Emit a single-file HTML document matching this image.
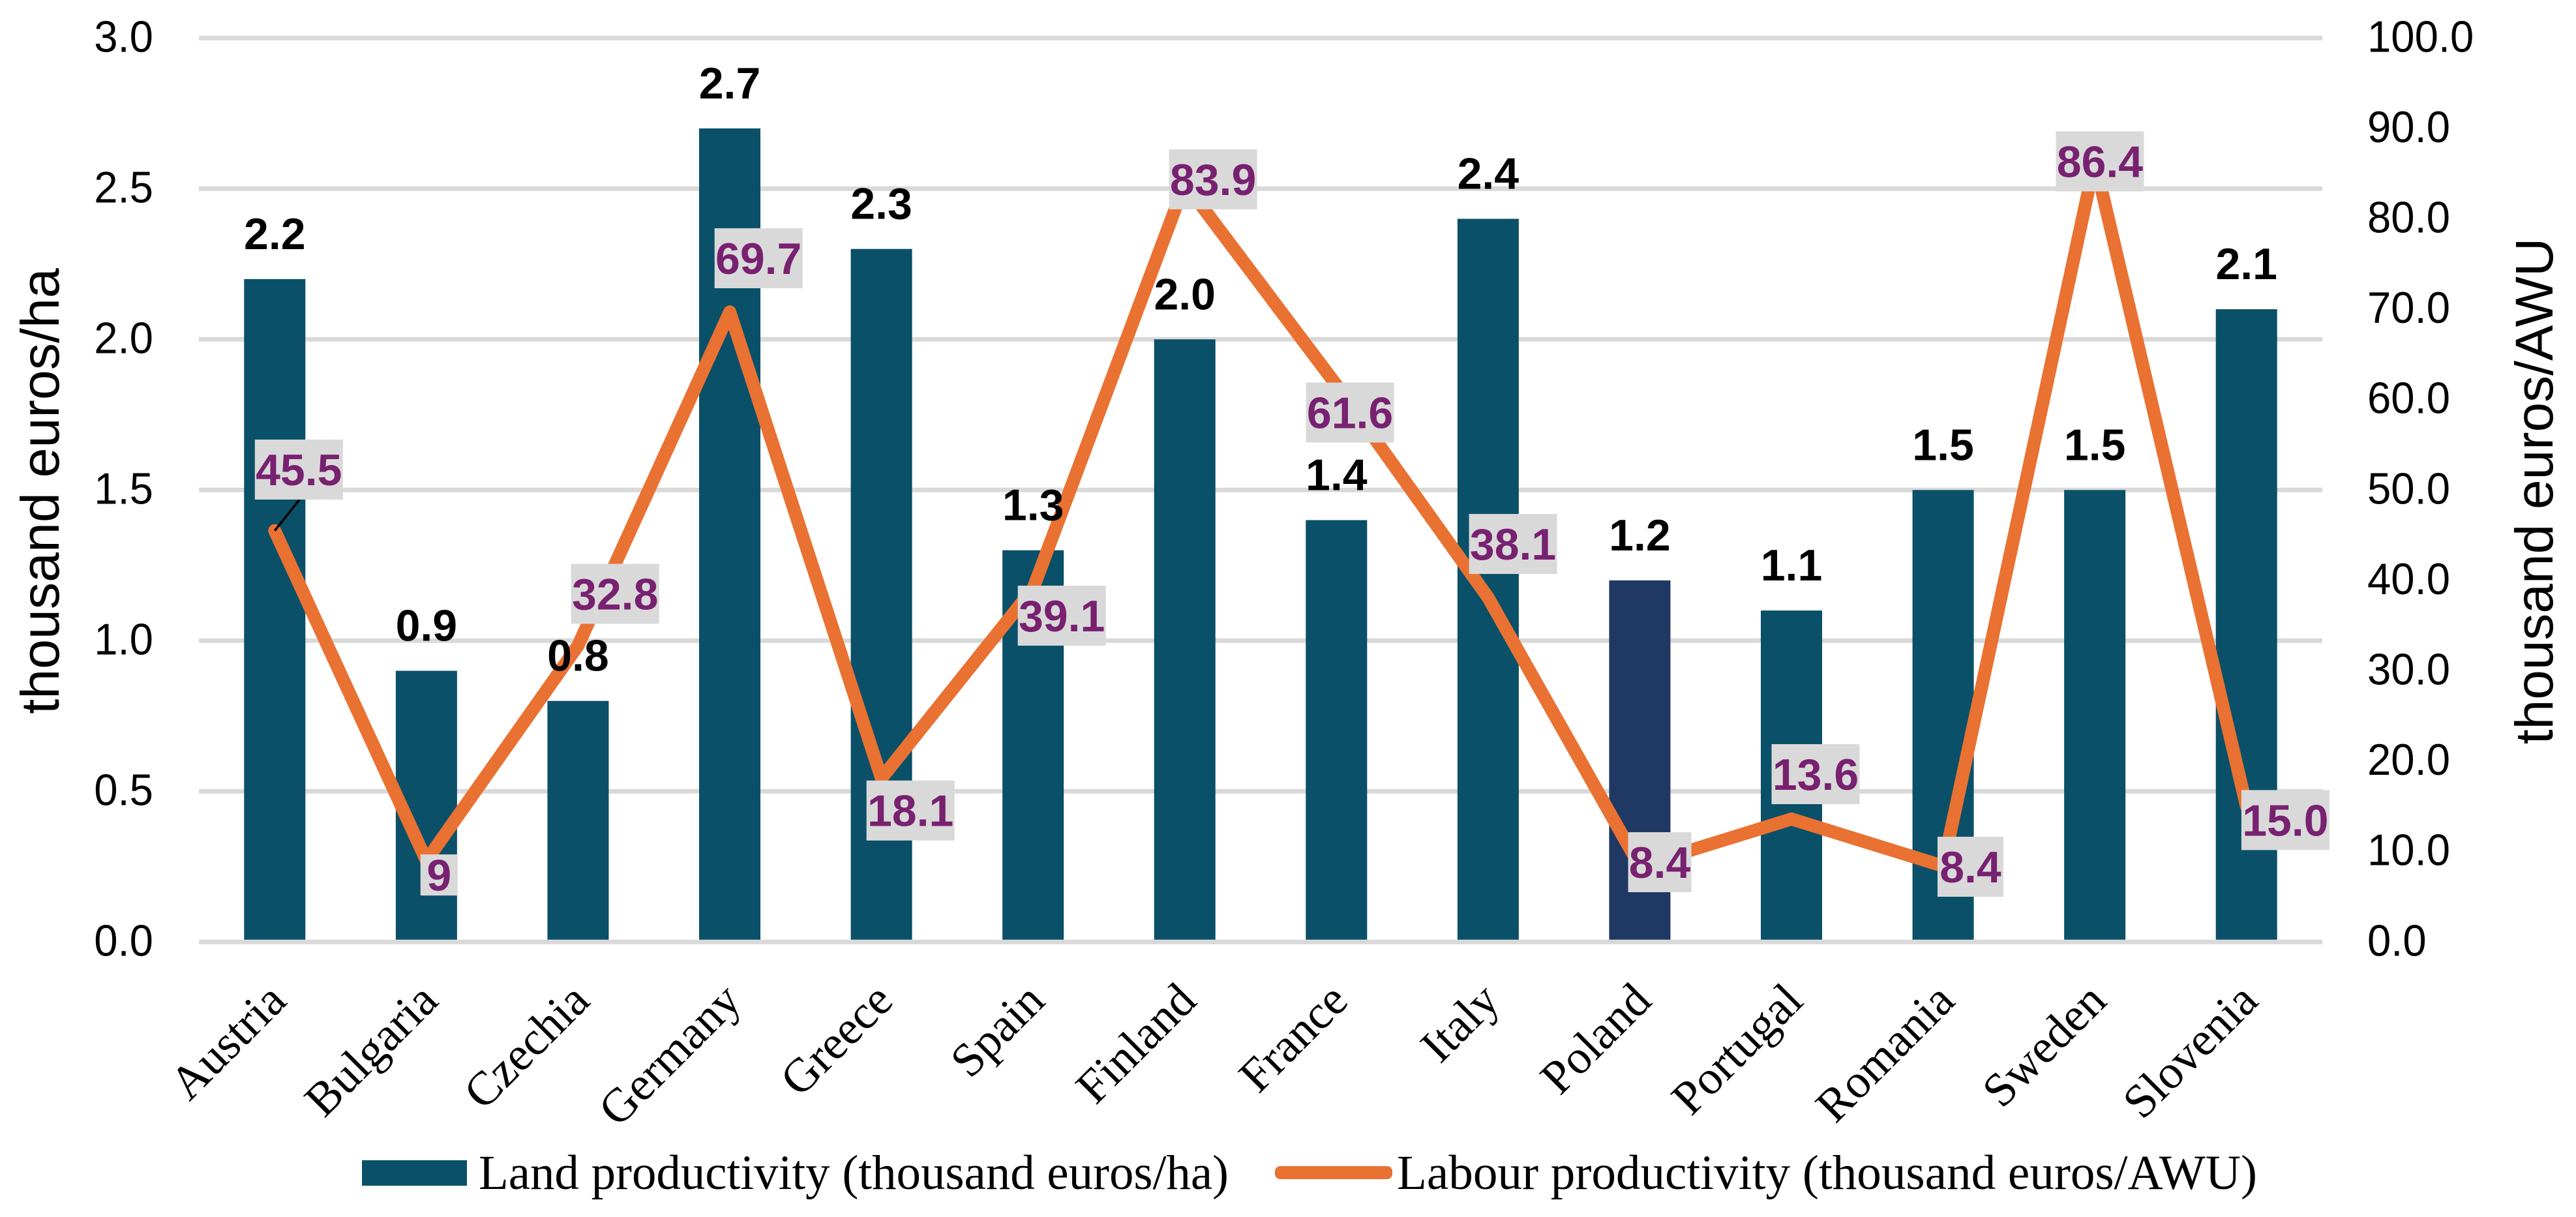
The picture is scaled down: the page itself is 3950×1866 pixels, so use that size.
<!DOCTYPE html>
<html lang="en">
<head>
<meta charset="utf-8">
<title>Land and labour productivity by country</title>
<style>
  html, body { margin: 0; padding: 0; background: #ffffff; }
  svg { display: block; }
  .sans { font-family: "Liberation Sans", sans-serif; }
  .serif { font-family: "Liberation Serif", serif; }
</style>
</head>
<body>
<svg id="chart" xmlns="http://www.w3.org/2000/svg" width="3950" height="1866" viewBox="0 0 3950 1866">
  <rect x="0" y="0" width="3950" height="1866" fill="#ffffff"/>
  <g id="grid"></g>
  <g id="bars"></g>
  <g id="baseline"></g>
  <g id="leftTicks"></g>
  <g id="rightTicks"></g>
  <g id="xTicks"></g>
  <g id="lineLayer"></g>
  <g id="barLabels"></g>
  <g id="lineLabelLayer"></g>

  <text class="sans" font-size="82.5" fill="#000" text-anchor="middle" transform="translate(90 753) rotate(-90)">thousand euros/ha</text>
  <text class="sans" font-size="82" fill="#000" text-anchor="middle" transform="translate(3914 753) rotate(-90)">thousand euros/AWU</text>

  <g>
    <rect x="555" y="1779" width="161" height="39" fill="#0a5068"/>
    <text class="serif" x="734" y="1823" font-size="75" fill="#000" textLength="1150" lengthAdjust="spacingAndGlyphs">Land productivity (thousand euros/ha)</text>
    <rect x="1955" y="1788" width="180" height="20" rx="8" ry="8" fill="#e97132"/>
    <text class="serif" x="2142" y="1823" font-size="75" fill="#000" textLength="1319" lengthAdjust="spacingAndGlyphs">Labour productivity (thousand euros/AWU)</text>
  </g>
</svg>
<script>
const countries = ["Austria", "Bulgaria", "Czechia", "Germany", "Greece", "Spain", "Finland", "France", "Italy", "Poland", "Portugal", "Romania", "Sweden", "Slovenia"];
const landProductivity = [2.2, 0.9, 0.8, 2.7, 2.3, 1.3, 2.0, 1.4, 2.4, 1.2, 1.1, 1.5, 1.5, 2.1];
const labourProductivity = [45.5, 9, 32.8, 69.7, 18.1, 39.1, 83.9, 61.6, 38.1, 8.4, 13.6, 8.4, 86.4, 15.0];
const labourLabels = ["45.5", "9", "32.8", "69.7", "18.1", "39.1", "83.9", "61.6", "38.1", "8.4", "13.6", "8.4", "86.4", "15.0"];
const leftTickLabels = ["0.0", "0.5", "1.0", "1.5", "2.0", "2.5", "3.0"];
const rightTickLabels = ["0.0", "10.0", "20.0", "30.0", "40.0", "50.0", "60.0", "70.0", "80.0", "90.0", "100.0"];

const NS = "http://www.w3.org/2000/svg";
const PLOT_LEFT = 305, PLOT_RIGHT = 3561, Y_ZERO = 1444.3, Y_TOP = 58.3;
const LEFT_MAX = 3, RIGHT_MAX = 100;
const BAR_WIDTH = 94;
const TICK_SIZE = 68;
const BAND = (PLOT_RIGHT - PLOT_LEFT) / countries.length;

function xAt(i) { return PLOT_LEFT + BAND * (i + 0.5); }
function yLeft(v) { return Y_ZERO - (Y_ZERO - Y_TOP) * v / LEFT_MAX; }
function yRight(v) { return Y_ZERO - (Y_ZERO - Y_TOP) * v / RIGHT_MAX; }
function tickLength(t) { return ((t.length - 1) * 0.556 + 0.278) * TICK_SIZE * 0.96; }

function make(tag, attrs, parent, text) {
  const el = document.createElementNS(NS, tag);
  for (const k in attrs) el.setAttribute(k, attrs[k]);
  if (text !== undefined) el.textContent = text;
  parent.appendChild(el);
  return el;
}

/* callout placement relative to each data point (label layout, not data) */
const calloutDx = [37, 19.4, 56.8, 44.2, 44.6, 44, 43.4, 20.8, 38.2, 30.6, 37, 41.9, 7.8, 59.7];
const calloutDy = [-93.7, 22, -79.2, -82.3, 49.3, 41.6, -6.5, 42, -82.2, -5.9, -68.8, 1.1, 0.7, 21];
const calloutW = [135, 57, 135, 135, 135, 135, 135, 135, 135, 97, 135, 101, 135, 135];
const calloutH = [92, 63, 92, 92, 92, 92, 92, 92, 92, 92, 92, 92, 92, 92];

const grid = document.getElementById("grid");
leftTickLabels.forEach(function (t) {
  const y = yLeft(parseFloat(t));
  if (parseFloat(t) === 0) return;
  const g = make("line", { x1: PLOT_LEFT, x2: PLOT_RIGHT, y1: y, y2: y, stroke: "#d9d9d9", "stroke-width": 7 }, grid);
  
  
});

const base = make("line", { x1: PLOT_LEFT, x2: PLOT_RIGHT, y1: Y_ZERO, y2: Y_ZERO, stroke: "#d9d9d9", "stroke-width": 7 }, document.getElementById("baseline"));



const barsG = document.getElementById("bars");
const barLabelsG = document.getElementById("barLabels");
landProductivity.forEach(function (v, i) {
  const cx = xAt(i);
  const top = yLeft(v);
  const r = make("rect", { x: cx - BAR_WIDTH / 2, y: top, width: BAR_WIDTH, height: Y_ZERO - 2 - top, fill: countries[i] === "Poland" ? "#203864" : "#0a5068" }, barsG);
  
  
  const l = make("text", { x: cx, y: top - 46, "text-anchor": "middle", "font-size": 68, "font-weight": "bold", fill: "#000", class: "sans" }, barLabelsG, v.toFixed(1));
  
  
});

const leftTicksG = document.getElementById("leftTicks");
leftTickLabels.forEach(function (t) {
  const el = make("text", { x: 235, y: yLeft(parseFloat(t)) + 21, "text-anchor": "end", "font-size": TICK_SIZE, fill: "#000", class: "sans", textLength: tickLength(t), lengthAdjust: "spacingAndGlyphs" }, leftTicksG, t);
  
  
});

const rightTicksG = document.getElementById("rightTicks");
rightTickLabels.forEach(function (t) {
  const el = make("text", { x: 3630, y: yRight(parseFloat(t)) + 21, "text-anchor": "start", "font-size": TICK_SIZE, fill: "#000", class: "sans", textLength: tickLength(t), lengthAdjust: "spacingAndGlyphs" }, rightTicksG, t);
  
  
});

const xTicksG = document.getElementById("xTicks");
countries.forEach(function (c, i) {
  const ax = xAt(i) + 21, ay = 1538;
  const el = make("text", { "text-anchor": "end", "font-size": 73, fill: "#000", class: "serif", transform: "translate(" + ax + " " + ay + ") rotate(-45)" }, xTicksG, c);
  
  
});

const lineLayer = document.getElementById("lineLayer");
const pts = labourProductivity.map(function (v, i) { return xAt(i) + "," + yRight(v); }).join(" ");
const poly = make("polyline", { points: pts, fill: "none", stroke: "#e97132", "stroke-width": 20, "stroke-linejoin": "round", "stroke-linecap": "round" }, lineLayer);



const labelLayer = document.getElementById("lineLabelLayer");
const leader = make("line", { x1: xAt(0), y1: yRight(labourProductivity[0]), x2: xAt(0) + 38, y2: yRight(labourProductivity[0]) + calloutDy[0] + calloutH[0] / 2, stroke: "#000", "stroke-width": 3.5 }, labelLayer);



labourProductivity.forEach(function (v, i) {
  const cx = xAt(i) + calloutDx[i];
  const cy = yRight(v) + calloutDy[i];
  const box = make("rect", { x: cx - calloutW[i] / 2, y: cy - calloutH[i] / 2, width: calloutW[i], height: calloutH[i], fill: "#d9d9d9" }, labelLayer);
  
  
  const t = make("text", { x: cx, y: cy + 24, "text-anchor": "middle", "font-size": 68, "font-weight": "bold", fill: "#782170", class: "sans" }, labelLayer, labourLabels[i]);
  
  
});
</script>
</body>
</html>
